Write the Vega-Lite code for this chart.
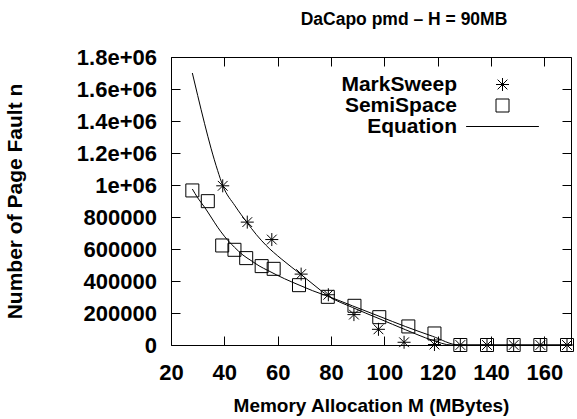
{
  "$schema": "https://vega.github.io/schema/vega-lite/v6.json",
  "width": 400,
  "height": 288,
  "autosize": "none",
  "padding": {"left": 171, "top": 57, "right": 6, "bottom": 74},
  "title": {"text": "DaCapo pmd – H = 90MB", "anchor": "middle", "dx": 33, "offset": 18, "fontSize": 17.5, "font": "Liberation Sans", "fontWeight": "bold", "color": "black"},
  "config": {
    "view": {"stroke": "black", "strokeWidth": 1},
    "font": "Liberation Sans",
    "axis": {"grid": false, "domain": false, "tickColor": "black", "tickSize": -9, "tickWidth": 1, "labelColor": "black", "labelFont": "Liberation Sans", "labelFontWeight": "bold", "labelFontSize": 22, "titleFont": "Liberation Sans", "titleFontWeight": "bold", "titleFontSize": 19, "titleColor": "black", "labelFlush": false, "labelOverlap": false}
  },
  "datasets": {
    "points": [
      {"series": "MarkSweep", "M": 39.4, "n": 995000},
      {"series": "MarkSweep", "M": 48.6, "n": 768000},
      {"series": "MarkSweep", "M": 57.8, "n": 659000},
      {"series": "MarkSweep", "M": 68.8, "n": 443000},
      {"series": "MarkSweep", "M": 79, "n": 314000},
      {"series": "MarkSweep", "M": 88.6, "n": 190000},
      {"series": "MarkSweep", "M": 97.8, "n": 98000},
      {"series": "MarkSweep", "M": 107.4, "n": 17000},
      {"series": "MarkSweep", "M": 118.8, "n": 3000},
      {"series": "MarkSweep", "M": 128.5, "n": 0},
      {"series": "MarkSweep", "M": 138.5, "n": 0},
      {"series": "MarkSweep", "M": 148.5, "n": 0},
      {"series": "MarkSweep", "M": 158.5, "n": 0},
      {"series": "MarkSweep", "M": 168.5, "n": 0},
      {"series": "SemiSpace", "M": 28, "n": 966000},
      {"series": "SemiSpace", "M": 33.8, "n": 899000},
      {"series": "SemiSpace", "M": 39.2, "n": 622000},
      {"series": "SemiSpace", "M": 43.8, "n": 595000},
      {"series": "SemiSpace", "M": 48.2, "n": 543000},
      {"series": "SemiSpace", "M": 54, "n": 493000},
      {"series": "SemiSpace", "M": 58.5, "n": 476000},
      {"series": "SemiSpace", "M": 68, "n": 374000},
      {"series": "SemiSpace", "M": 78.8, "n": 301000},
      {"series": "SemiSpace", "M": 88.8, "n": 245000},
      {"series": "SemiSpace", "M": 98.1, "n": 174000},
      {"series": "SemiSpace", "M": 109, "n": 116000},
      {"series": "SemiSpace", "M": 118.8, "n": 72000},
      {"series": "SemiSpace", "M": 128.5, "n": 0},
      {"series": "SemiSpace", "M": 138.5, "n": 0},
      {"series": "SemiSpace", "M": 148.5, "n": 0},
      {"series": "SemiSpace", "M": 158.5, "n": 0},
      {"series": "SemiSpace", "M": 168.5, "n": 0}
    ],
    "curves": [
      {"curve": "A", "M": 28, "n": 1700000},
      {"curve": "A", "M": 30, "n": 1560000},
      {"curve": "A", "M": 32.6, "n": 1383000},
      {"curve": "A", "M": 35, "n": 1230000},
      {"curve": "A", "M": 37.5, "n": 1090000},
      {"curve": "A", "M": 39.4, "n": 997000},
      {"curve": "A", "M": 44, "n": 870000},
      {"curve": "A", "M": 48.4, "n": 768000},
      {"curve": "A", "M": 52, "n": 690000},
      {"curve": "A", "M": 55.7, "n": 622000},
      {"curve": "A", "M": 61.3, "n": 539000},
      {"curve": "A", "M": 68.8, "n": 440000},
      {"curve": "A", "M": 74, "n": 370000},
      {"curve": "A", "M": 78.8, "n": 308000},
      {"curve": "A", "M": 88, "n": 235000},
      {"curve": "A", "M": 98, "n": 165000},
      {"curve": "A", "M": 108, "n": 95000},
      {"curve": "A", "M": 118, "n": 30000},
      {"curve": "A", "M": 125, "n": 0},
      {"curve": "A", "M": 170, "n": 0},
      {"curve": "B", "M": 28, "n": 975000},
      {"curve": "B", "M": 30, "n": 920000},
      {"curve": "B", "M": 32.6, "n": 861000},
      {"curve": "B", "M": 35, "n": 800000},
      {"curve": "B", "M": 37.5, "n": 736000},
      {"curve": "B", "M": 40, "n": 680000},
      {"curve": "B", "M": 43.8, "n": 611000},
      {"curve": "B", "M": 47, "n": 562000},
      {"curve": "B", "M": 50, "n": 528000},
      {"curve": "B", "M": 53, "n": 495000},
      {"curve": "B", "M": 56.3, "n": 466000},
      {"curve": "B", "M": 62.6, "n": 414000},
      {"curve": "B", "M": 68, "n": 375000},
      {"curve": "B", "M": 73, "n": 340000},
      {"curve": "B", "M": 78.8, "n": 305000},
      {"curve": "B", "M": 88, "n": 245000},
      {"curve": "B", "M": 98, "n": 180000},
      {"curve": "B", "M": 108, "n": 115000},
      {"curve": "B", "M": 118, "n": 55000},
      {"curve": "B", "M": 128, "n": 0},
      {"curve": "B", "M": 170, "n": 0}
    ]
  },
  "layer": [
    {
      "data": {"name": "curves"},
      "mark": {"type": "line", "color": "black", "strokeWidth": 1, "interpolate": "monotone"},
      "encoding": {
        "x": {"field": "M", "type": "quantitative", "scale": {"domain": [20, 170], "nice": false, "zero": false},
              "axis": {"orient": "bottom", "values": [20, 40, 60, 80, 100, 120, 140, 160], "title": "Memory Allocation M (MBytes)", "labelPadding": 26, "titleX": 200, "titleY": 60, "titleBaseline": "middle", "titleAnchor": "middle"}},
        "y": {"field": "n", "type": "quantitative", "scale": {"domain": [0, 1800000], "nice": false},
              "axis": {"orient": "left", "values": [0, 200000, 400000, 600000, 800000, 1000000, 1200000, 1400000, 1600000, 1800000], "labelExpr": "datum.value >= 1000000 ? (datum.value / 1000000) + 'e+06' : '' + datum.value", "title": "Number of Page Fault n", "titleFontSize": 21, "labelPadding": 23.5, "titleX": -156, "titleY": 144, "titleAngle": -90, "titleBaseline": "middle", "titleAnchor": "middle"}},
        "detail": {"field": "curve", "type": "nominal"}
      }
    },
    {
      "data": {"name": "points"},
      "mark": {"type": "point", "filled": false, "color": "black", "strokeWidth": 1, "size": 169, "opacity": 1},
      "encoding": {
        "x": {"field": "M", "type": "quantitative", "axis": {"orient": "top", "values": [20, 40, 60, 80, 100, 120, 140, 160], "labels": false, "title": null}},
        "y": {"field": "n", "type": "quantitative", "axis": {"orient": "right", "values": [0, 200000, 400000, 600000, 800000, 1000000, 1200000, 1400000, 1600000, 1800000], "labels": false, "title": null}},
        "shape": {"field": "series", "type": "nominal",
                  "scale": {"domain": ["MarkSweep", "SemiSpace", "Equation"], "range": ["M0,-1V1M-1,0H1M-0.75,-0.75L0.75,0.75M-0.75,0.75L0.75,-0.75", "M-1,-1H1V1H-1Z", "M-5.6,0H5.6"]},
                  "legend": {"orient": "none", "legendX": 321, "legendY": 17, "title": null, "labelAlign": "right", "labelOffset": -56, "labelFontSize": 21, "labelFont": "Liberation Sans", "labelFontWeight": "bold", "labelColor": "black", "symbolSize": 169, "symbolStrokeWidth": 1, "symbolStrokeColor": "black", "symbolFillColor": "transparent", "rowPadding": -1.5, "padding": 0, "labelLimit": 300}}
      }
    }
  ],
  "resolve": {"axis": {"x": "independent", "y": "independent"}}
}
